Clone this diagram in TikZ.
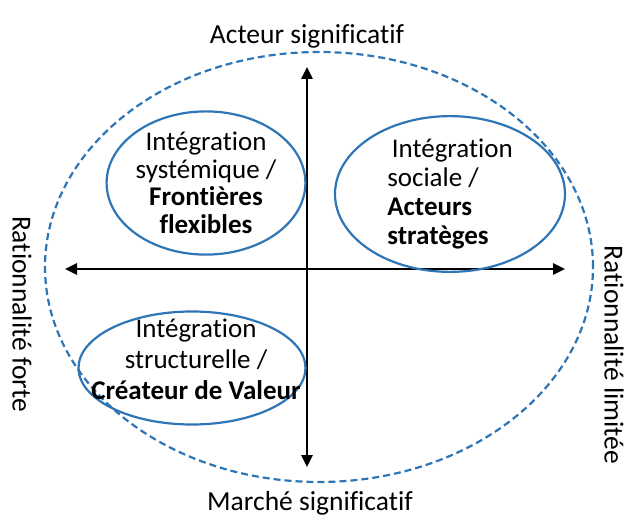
\documentclass[tikz,border=0pt]{standalone}
\usepackage{fontspec}
\setmainfont{Carlito}[Ligatures={NoCommon}]
\usepackage{xcolor}
\usetikzlibrary{positioning,arrows.meta,shapes.geometric}

\definecolor{ovalblue}{RGB}{46,117,182}

\begin{document}
\begin{tikzpicture}[x=1pt, y=-1pt,
  oval/.style={draw=ovalblue, line width=2.2pt, ellipse, inner sep=0pt, align=center, font=\fontsize{27}{27.5}\selectfont},
  outer/.style={draw=ovalblue, line width=2.2pt, dash pattern=on 7pt off 4pt},
  axis/.style={-{Triangle[length=12pt, width=11pt]}, line width=2.6pt},
  lbl/.style={font=\fontsize{27.5}{30}\selectfont, inner sep=0pt}
]
\useasboundingbox (0,0) rectangle (627,521);

\draw[outer] (319,267) ellipse [x radius=274pt, y radius=215pt];

\node[lbl] (top) at (307,36) {Acteur significatif};
\node[lbl] (bottom) at (310,503) {Marché significatif};
\node[lbl, rotate=-90] (left) at (22,314) {Rationnalité forte};
\node[lbl, rotate=-90] (right) at (614,355) {Rationnalité limitée};

\coordinate (c) at (307,269);
\coordinate (n) at (307,67);
\coordinate (s) at (307,467);
\coordinate (w) at (65,269);
\coordinate (e) at (565,269);
\draw[axis] (c) -- (n);
\draw[axis] (c) -- (s);
\draw[axis] (c) -- (w);
\draw[axis] (c) -- (e);

\node[oval, minimum width=192pt, minimum height=131pt] (tl) at (206,183) {Intégration\\systémique /\\\textbf{Frontières}\\\textbf{flexibles}};
\node[oval, minimum width=230pt, minimum height=128pt, align=left, font=\fontsize{27}{29}\selectfont] (tr) at (450,194) {\,Intégration\\sociale /\\\textbf{Acteurs}\\\textbf{stratèges}};
\node[oval, minimum width=227pt, minimum height=113pt] (bl) at (192,368) {};
\node[align=center, font=\fontsize{27}{31}\selectfont] (bltext) at ([xshift=4pt, yshift=9pt]bl.center) {Intégration\\structurelle /\\\textbf{Créateur de Valeur}};
\end{tikzpicture}
\end{document}
